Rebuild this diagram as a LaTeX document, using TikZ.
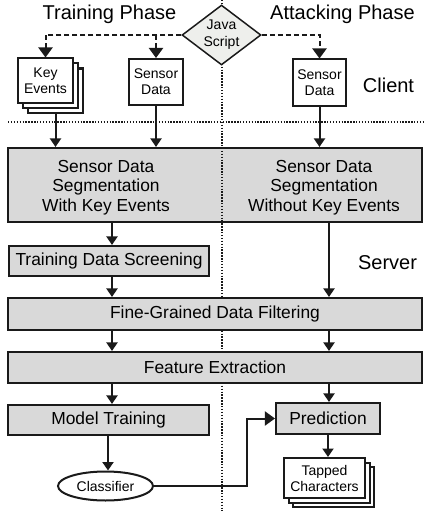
\documentclass[tikz,border=0pt]{standalone}
\usepackage{fontspec}
\setmainfont{Liberation Sans}
\usetikzlibrary{arrows.meta,shapes.geometric}
\definecolor{boxgray}{HTML}{D9D9D9}
\definecolor{jsfill}{HTML}{EEEFEC}
\definecolor{ink}{HTML}{1A1A1A}
\begin{document}
\begin{tikzpicture}[x=1pt,y=-1pt,
  graybox/.style={draw=ink, fill=boxgray, line width=2.1pt, inner sep=0pt},
  graytext/.style={inner sep=0pt, align=center, font=\fontsize{17.4}{19.5}\selectfont},
  whitebox/.style={draw=ink, fill=white, line width=2pt, inner sep=0pt, align=center, font=\fontsize{14}{16}\selectfont},
  title/.style={inner sep=0pt, font=\fontsize{20}{24}\selectfont},
  dots/.style={draw=ink, line width=2pt, dash pattern=on 1.4pt off 1.5pt},
  arr/.style={draw=ink, line width=2pt, -{Triangle[length=8.5pt,width=11pt]}},
  bigarr/.style={draw=ink, line width=2pt, -{Triangle[length=10pt,width=14pt]}},
  dasharr/.style={bigarr, dash pattern=on 5pt off 3pt}
]
\useasboundingbox (0,0) rectangle (423,511);

% column coordinates
\coordinate (cA) at (112,0);
\coordinate (cB) at (329,0);
\coordinate (cM) at (108,0);
\coordinate (cK) at (247,0);

% titles
\node[title] (tp) at (109.5,14) {Training Phase};
\node[title] (ap) at (342.5,14) {Attacking Phase};
\node[title] (client) at (388.5,85) {Client};
\node[title] (server) at (387.5,263) {Server};

% first gray box (under the divider)
\node[graybox, minimum width=414pt, minimum height=74pt] (sg) at (215,185) {};
\node[graytext] (sgL) at (106,187.5) {Sensor Data\\Segmentation\\With Key Events};
\node[graytext] (sgR) at (324,187.5) {Sensor Data\\Segmentation\\Without Key Events};

% dividers
\coordinate (vt) at (221.5,0);
\coordinate (vb) at (221.5,511);
\coordinate (hl) at (8,122);
\coordinate (hr) at (423,122);
\draw[dots] (vt) -- (vb);
\draw[dots] (hl) -- (hr);

% JavaScript diamond
\node[diamond, draw=ink, fill=jsfill, line width=1.5pt, inner sep=0pt,
      minimum width=79pt, minimum height=60pt,
      label={[align=center, font=\fontsize{14}{17}\selectfont, inner sep=0pt]center:Java\\Script}] (js) at (221.5,35) {};

% client boxes
\node[whitebox, minimum width=55pt, minimum height=44.5pt] (ke3) at (55.5,90.75) {};
\node[whitebox, minimum width=55pt, minimum height=44.5pt] (ke2) at (50.5,85.75) {};
\node[whitebox, minimum width=55pt, minimum height=44.5pt] (ke) at (45.5,80.75) {Key\\Events};
\node[whitebox, minimum width=54pt, minimum height=46pt] (sd1) at (156,82) {Sensor\\Data};
\node[whitebox, minimum width=53pt, minimum height=46pt] (sd2) at (319.5,82.5) {Sensor\\Data};

\draw[dasharr] (js.west) -| (ke.north);
\draw[dasharr] (sd1.north |- js.west) -- (sd1.north);
\draw[dasharr] (js.east) -| (sd2.north);

\draw[arr] (ke3.south) -- (ke3.south |- sg.north);
\draw[arr] (sd1.south) -- (sd1.south |- sg.north);
\draw[arr] (sd2.south) -- (sd2.south |- sg.north);

% server boxes
\node[graybox, graytext, minimum width=200pt, minimum height=30pt] (tds) at (109,261) {Training Data Screening};
\node[graybox, graytext, minimum width=414pt, minimum height=32pt] (fg) at (215,314) {Fine-Grained Data Filtering};
\node[graybox, graytext, minimum width=414pt, minimum height=31pt] (fe) at (215,367.5) {Feature Extraction};
\node[graybox, graytext, minimum width=201pt, minimum height=30pt] (mt) at (108.5,420) {Model Training};
\node[graybox, graytext, minimum width=104pt, minimum height=31pt] (pr) at (328,418.5) {Prediction};
\node[ellipse, draw=ink, fill=white, line width=2pt, inner sep=0pt, minimum width=95pt, minimum height=29pt,
      font=\fontsize{14}{16}\selectfont] (cl) at (105.5,486) {Classifier};
\node[whitebox, minimum width=81pt, minimum height=40pt] (tc3) at (333.5,487) {};
\node[whitebox, minimum width=81pt, minimum height=40pt] (tc2) at (329,482.5) {};
\node[whitebox, minimum width=81pt, minimum height=40pt] (tc) at (324.5,478) {Tapped\\Characters};

\draw[arr] (sg.south -| cA) -- (tds.north -| cA);
\draw[arr] (tds.south -| cA) -- (fg.north -| cA);
\draw[arr] (sg.south -| cB) -- (fg.north -| cB);
\draw[arr] (fg.south -| cA) -- (fe.north -| cA);
\draw[arr] (fg.south -| cB) -- (fe.north -| cB);
\draw[arr] (fe.south -| cA) -- (mt.north -| cA);
\draw[arr] (fe.south -| cB) -- (pr.north -| cB);
\draw[arr] (mt.south -| cM) -- (cl.north -| cM);
\draw[arr] (pr.south) -- (tc.north -| pr.south);
\draw[bigarr] (cl.east) -| (cK |- pr.west) -- (pr.west);
\end{tikzpicture}
\end{document}
